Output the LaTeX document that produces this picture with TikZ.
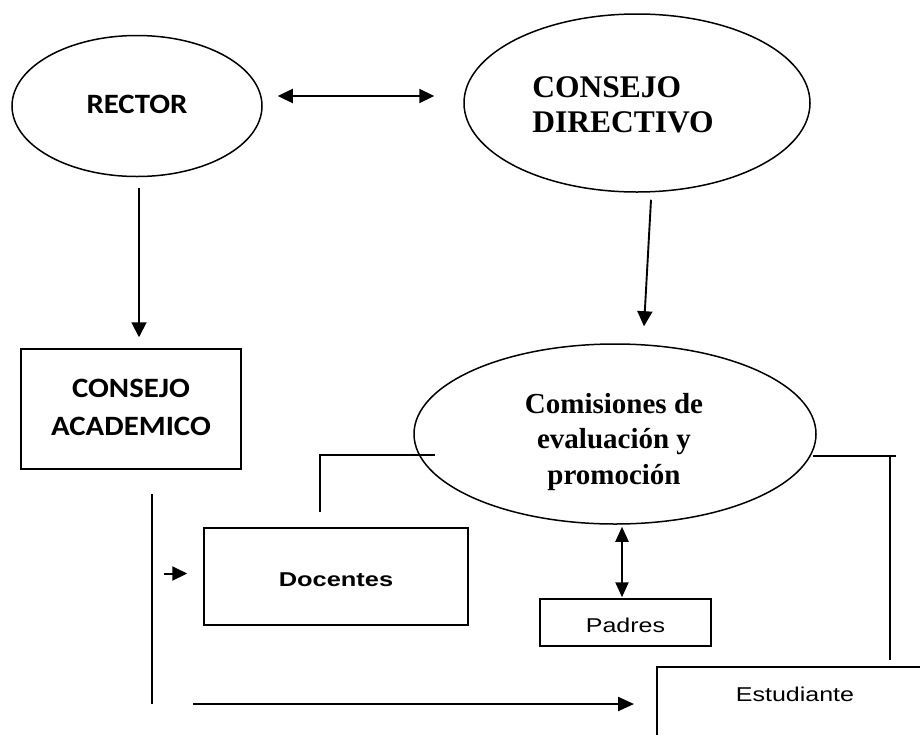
\documentclass[tikz,border=0pt]{standalone}
\usepackage{fontspec}
\usepackage{graphicx}
\setmainfont{Liberation Serif}
\newfontfamily\carlito{Carlito}
\newfontfamily\lsans{Liberation Sans}
\newfontfamily\lserif{Liberation Serif}
\usetikzlibrary{arrows.meta,calc,shapes.geometric}
\newcommand{\wide}[3]{\scalebox{#1}[1]{\begin{tabular}{@{}#2@{}}#3\end{tabular}}}
\begin{document}
\begin{tikzpicture}[x=1pt,y=-1pt,line width=1.5pt,
  ell/.style={draw, ellipse, inner sep=0pt},
  box/.style={draw, rectangle, inner sep=0pt},
  cal/.style={font=\carlito\bfseries\fontsize{28}{37.5}\selectfont},
  tim/.style={font=\lserif\bfseries\fontsize{#1}{35.5}\selectfont},
  ari/.style={font=\lsans\fontsize{20}{24}\selectfont},
  arib/.style={font=\lsans\bfseries\fontsize{20}{24}\selectfont},
  varr/.style={-{Triangle[length=15pt,width=15pt]}},
  vdarr/.style={{Triangle[length=15pt,width=13pt]}-{Triangle[length=15pt,width=13pt]}},
  hdarr/.style={{Triangle[length=15pt,width=14pt]}-{Triangle[length=15pt,width=14pt]}},
  harr/.style={-{Triangle[length=16pt,width=14pt]}},
]
\useasboundingbox (0,0) rectangle (920,734);
\clip (0,0) rectangle (920,734);

% shapes
\node[ell, cal, minimum width=250pt, minimum height=141pt] (rector) at (137,106) {\wide{1.1}{c}{RECTOR}};
\node[ell, minimum width=346pt, minimum height=178pt] (directivo) at (637,103) {};
\node[tim=31.5] (directivoT) at (623,108) {\wide{1}{l}{CONSEJO\\DIRECTIVO}};
\node[box, cal, minimum width=220pt, minimum height=120pt] (academico) at (131,409) {\wide{1.1}{c}{CONSEJO\\ACADEMICO}};
\node[ell, minimum width=402pt, minimum height=180pt] (comisiones) at (615,434) {};
\node[tim=29] (comisionesT) at (614,441.5) {\wide{1}{c}{Comisiones de\\evaluación y\\promoción}};
\node[box, arib, minimum width=264pt, minimum height=97pt, text height=20pt, text depth=0pt] (docentes) at (336,576.5) {\wide{1.27}{c}{Docentes}};
\node[box, ari, minimum width=171pt, minimum height=47pt, text height=21pt, text depth=0pt] (padres) at (625.5,622.5) {\wide{1.25}{c}{Padres}};
\node[ari, text height=15pt, text depth=0pt] (estudiante) at (795,694.5) {\wide{1.25}{c}{Estudiante}};
\draw (930,667) -| (657,745);

% free line ends
\coordinate (rbA) at (813,456);
\coordinate (rbB) at (896,456);
\coordinate (rbC) at (890,456);
\coordinate (rbD) at (890,660);
\coordinate (lvA) at (152,494);
\coordinate (lvB) at (152,704);
\coordinate (botA) at (193,704);

% connectors
\draw[hdarr, line width=2.2pt] ([xshift=15pt,yshift=10pt]rector.east) -- ([xshift=-29pt,yshift=7pt]directivo.west);
\draw[varr, line width=1.9pt] ([xshift=2pt,yshift=-11pt]rector.south) -- ([xshift=8pt,yshift=11pt]academico.north);
\draw[varr, line width=1.9pt] ([xshift=14pt,yshift=-7pt]directivo.south) -- ([xshift=29pt,yshift=17pt]comisiones.north);
\draw ([xshift=-180pt,yshift=-21pt]comisiones.center) -| ([xshift=-16pt,yshift=15pt]docentes.north);
\draw (rbA) -- (rbB);
\draw (rbC) -- (rbD);
\draw (lvA) -- (lvB);
\draw[-{Triangle[length=15pt,width=14pt]}, line width=2pt] ([xshift=-39pt,yshift=3pt]docentes.west) -- ([xshift=-16pt,yshift=3pt]docentes.west);
\draw[harr, line width=2.4pt] (botA) -- ([xshift=-161pt,yshift=-9.5pt]estudiante.center);
\draw[vdarr, line width=2.2pt] ($(padres.north |- comisiones.south)+(-3.5,2)$) -- ($(padres.north)+(-3.5,-1)$);
\end{tikzpicture}
\end{document}
